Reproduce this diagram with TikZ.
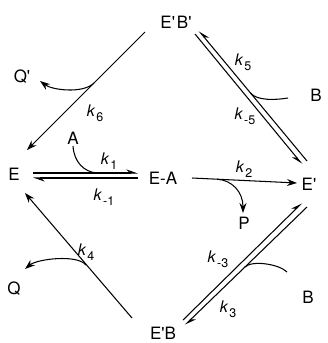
\documentclass[tikz,border=0pt]{standalone}
\usepackage{fontspec}
\setmainfont{TeX Gyre Heros}
\usetikzlibrary{arrows.meta,calc}
\newcommand\pr{\textquotesingle}
\newcommand\kx[1]{\textit{k}\kern1pt\raisebox{-5pt}{\fontsize{12.5}{13}\selectfont #1}}
\begin{document}
\begin{tikzpicture}[x=1pt,y=-1pt,
  lbl/.style={inner sep=0pt, font=\fontsize{17}{18}\selectfont},
  klbl/.style={inner sep=0pt, font=\fontsize{16}{17}\selectfont},
  ln/.style={line width=1.05pt},
  arr/.style={ln, -{Stealth[length=10pt,width=7pt]}},
  harp/.style={ln, -{Stealth[length=10pt,width=7pt,harpoon]}},
  harps/.style={ln, -{Stealth[length=10pt,width=7pt,harpoon,swap]}},
]
\path[use as bounding box, fill=white] (0,0) rectangle (327,343);

% species
\node[lbl] (EBp) at (176,22) {E\pr\hspace{2pt}B\pr};
\node[lbl] (Qp) at (22,77) {Q\pr};
\node[lbl] (E) at (14,174) {E};
\node[lbl] (A) at (73,138) {A};
\node[lbl] (EA) at (163,178) {E-A};
\node[lbl] (Ep) at (309,184) {E\pr};
\node[lbl] (P) at (244,223) {P};
\node[lbl] (Q) at (14,289) {Q};
\node[lbl] (EB) at (163,333) {E\pr B};
\node[lbl] (B1) at (316,95) {B};
\node[lbl] (B2) at (308,297) {B};

% rate constants
\node[klbl] (k6) at (95,113) {\kx{6}};
\node[klbl] (k1) at (109,161) {\kx{1}};
\node[klbl] (km1) at (104,197) {\kx{-1}};
\node[klbl] (k2) at (244,169) {\kx{2}};
\node[klbl] (k5) at (243,62) {\kx{5}};
\node[klbl] (km5) at (245,116) {\kx{-5}};
\node[klbl] (km3) at (218,259) {\kx{-3}};
\node[klbl] (k3) at (228,309) {\kx{3}};
\node[klbl] (k4) at (86,252) {\kx{4}};

% connector end points
\coordinate (l6a) at (145,32);  \coordinate (l6b) at (27,150);
\coordinate (l4a) at (132,318); \coordinate (l4b) at (25,193);
\coordinate (e1a) at (33,173);  \coordinate (e1b) at (138,173);
\coordinate (e2a) at (138,178); \coordinate (e2b) at (33,178);
\coordinate (e3a) at (192,178); \coordinate (e3b) at (297,183);
\coordinate (r5a) at (307,161); \coordinate (r5b) at (199,31);
\coordinate (l5a) at (195,34);  \coordinate (l5b) at (302,164);
\coordinate (u3a) at (183,320); \coordinate (u3b) at (302,203);
\coordinate (w3a) at (307,207); \coordinate (w3b) at (185,325);

% E'B' -> E, releasing Q'
\draw[arr] (l6a) -- (l6b);
\coordinate (q6) at (94,83);
\draw[arr] (q6) .. controls (83,94) and (52,90) .. (40,81);

% E'B -> E, releasing Q
\draw[arr] (l4a) -- (l4b);
\coordinate (q4) at (86,265);
\draw[arr] (q4) .. controls (77,254) and (37,259) .. (25,269);

% E + A <=> E-A
\draw[harp] (e1a) -- (e1b);
\draw[harp] (e2a) -- (e2b);
\coordinate (a1) at (97,173);
\draw[ln] (73,146) .. controls (74,162) and (84,172) .. (a1);

% E-A -> E' + P
\draw[arr] (e3a) -- (e3b);
\coordinate (p1) at (217,179.2);
\draw[arr] (p1) .. controls (232,180) and (243,192) .. (243,213);

% E' + B <=> E'B'
\draw[harps] (r5a) -- (r5b);
\draw[harps] (l5a) -- (l5b);
\coordinate (b5) at (250.5,93);
\draw[ln] (288,98) .. controls (276,100) and (257,101) .. (b5);

% E' + B <=> E'B
\draw[harp] (u3a) -- (u3b);
\draw[harp] (w3a) -- (w3b);
\coordinate (b3) at (245,267);
\draw[ln] (287,272) .. controls (279,264) and (252,260) .. (b3);
\end{tikzpicture}
\end{document}
